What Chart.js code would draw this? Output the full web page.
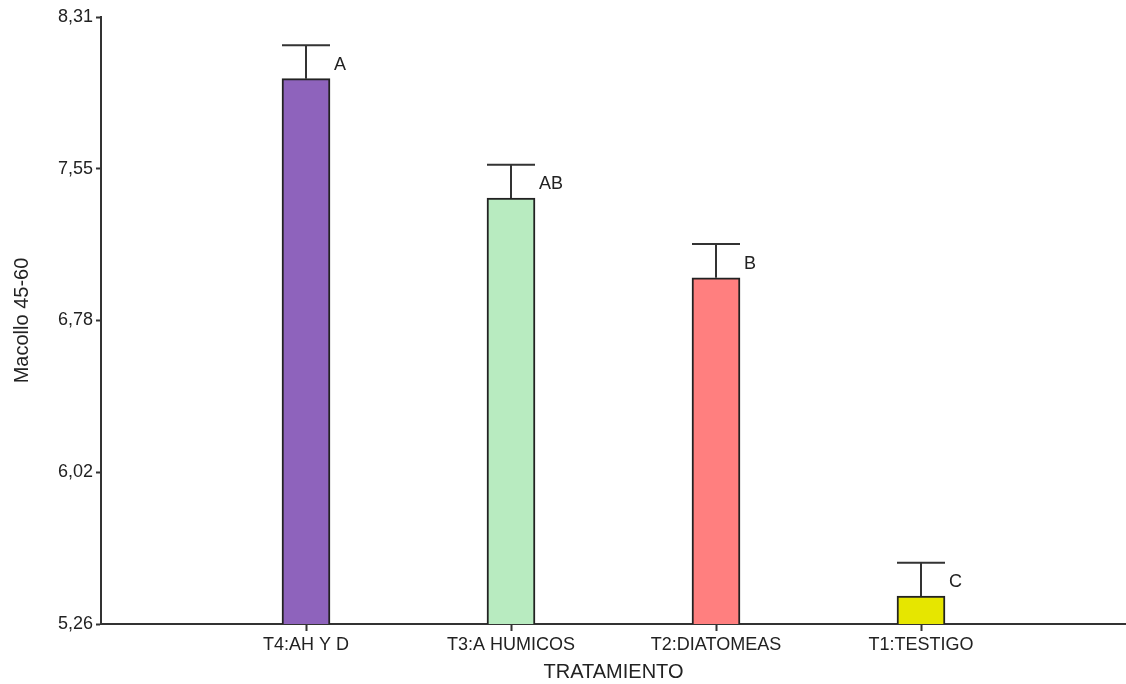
<!DOCTYPE html>
<html>
<head>
<meta charset="utf-8">
<script src="https://cdn.jsdelivr.net/npm/chart.js@4.4.0/dist/chart.umd.min.js"></script>
<style>
  html, body { margin: 0; padding: 0; background: #fff; }
  #chart { display: block; }
</style>
</head>
<body>
<canvas id="chart" width="1126" height="684"></canvas>
<script>
// Treatments (empty slots at both ends leave the outer gaps of the axis)
const categories = ['', 'T4:AH Y D', 'T3:A HUMICOS', 'T2:DIATOMEAS', 'T1:TESTIGO', ''];
const means = [null, 8.0, 7.40, 7.0, 5.40, null];
const errors = [null, 0.168, 0.168, 0.170, 0.168, null];
const groups = [null, 'A', 'AB', 'B', 'C', null];
const barColors = ['#fff', '#8E63BC', '#B8EBC0', '#FF7F7F', '#E6E600', '#fff'];

const yTickValues = [5.26, 6.0225, 6.785, 7.5475, 8.31];
const yTickLabels = ['5,26', '6,02', '6,78', '7,55', '8,31'];

const FONT = 'Arial, "Liberation Sans", sans-serif';
const INK = '#222';

// Error whiskers (upper only) plus the group letter beside each one
const errorBars = {
    id: 'errorBars',
    afterDatasetsDraw(chart) {
        const ctx = chart.ctx;
        const meta = chart.getDatasetMeta(0);
        const y = chart.scales.y;
        ctx.save();
        ctx.strokeStyle = '#333';
        ctx.lineWidth = 2;
        meta.data.forEach((bar, i) => {
            if (means[i] === null) return;
            const top = y.getPixelForValue(means[i] + errors[i]);
            const half = bar.width / 2;
            ctx.beginPath();
            ctx.moveTo(bar.x, bar.y);
            ctx.lineTo(bar.x, top);
            ctx.moveTo(bar.x - half, top);
            ctx.lineTo(bar.x + half, top);
            ctx.stroke();

            ctx.fillStyle = INK;
            ctx.font = '18px ' + FONT;
            ctx.textAlign = 'left';
            ctx.textBaseline = 'middle';
            ctx.fillText(groups[i], bar.x + half + 4, (bar.y + top) / 2 + 3);
        });
        ctx.restore();
    }
};

new Chart(document.getElementById('chart'), {
    type: 'bar',
    data: {
        labels: categories,
        datasets: [{
            data: means,
            backgroundColor: barColors,
            borderColor: INK,
            borderWidth: 2,
            borderSkipped: 'bottom',
            barThickness: 48
        }]
    },
    options: {
        responsive: false,
        animation: false,
        layout: { padding: { top: 17, right: 0, left: 0, bottom: 0 } },
        plugins: {
            legend: { display: false },
            tooltip: { enabled: false }
        },
        scales: {
            x: {
                offset: false,
                grid: {
                    offset: false,
                    drawOnChartArea: false,
                    drawTicks: true,
                    tickLength: 7,
                    tickWidth: 2,
                    tickColor: ctx => (ctx.tick && ctx.tick.label ? '#333' : 'rgba(0,0,0,0)')
                },
                border: { color: '#333', width: 2 },
                ticks: {
                    color: INK,
                    font: { family: FONT, size: 18 },
                    padding: 3,
                    maxRotation: 0,
                    autoSkip: false
                },
                title: {
                    display: true,
                    text: 'TRATAMIENTO',
                    color: INK,
                    font: { family: FONT, size: 20 },
                    padding: { top: 0, bottom: 0 }
                },
                afterFit: scale => {
                    scale.height = 60;
                    scale.paddingLeft = 0;
                    scale.paddingRight = 0;
                }
            },
            y: {
                min: 5.26,
                max: 8.31,
                grid: {
                    drawOnChartArea: false,
                    drawTicks: true,
                    tickLength: 5,
                    tickWidth: 2,
                    tickColor: '#333'
                },
                border: { color: '#333', width: 2 },
                afterBuildTicks: scale => {
                    scale.ticks = yTickValues.map(v => ({ value: v }));
                },
                ticks: {
                    color: INK,
                    font: { family: FONT, size: 18 },
                    padding: 3,
                    callback: (value, index) => yTickLabels[index]
                },
                title: {
                    display: true,
                    text: 'Macollo 45-60',
                    color: INK,
                    font: { family: FONT, size: 20 },
                    padding: { top: 10, bottom: 0 }
                },
                afterFit: scale => { scale.width = 101; }
            }
        }
    },
    plugins: [errorBars]
});
</script>
</body>
</html>
